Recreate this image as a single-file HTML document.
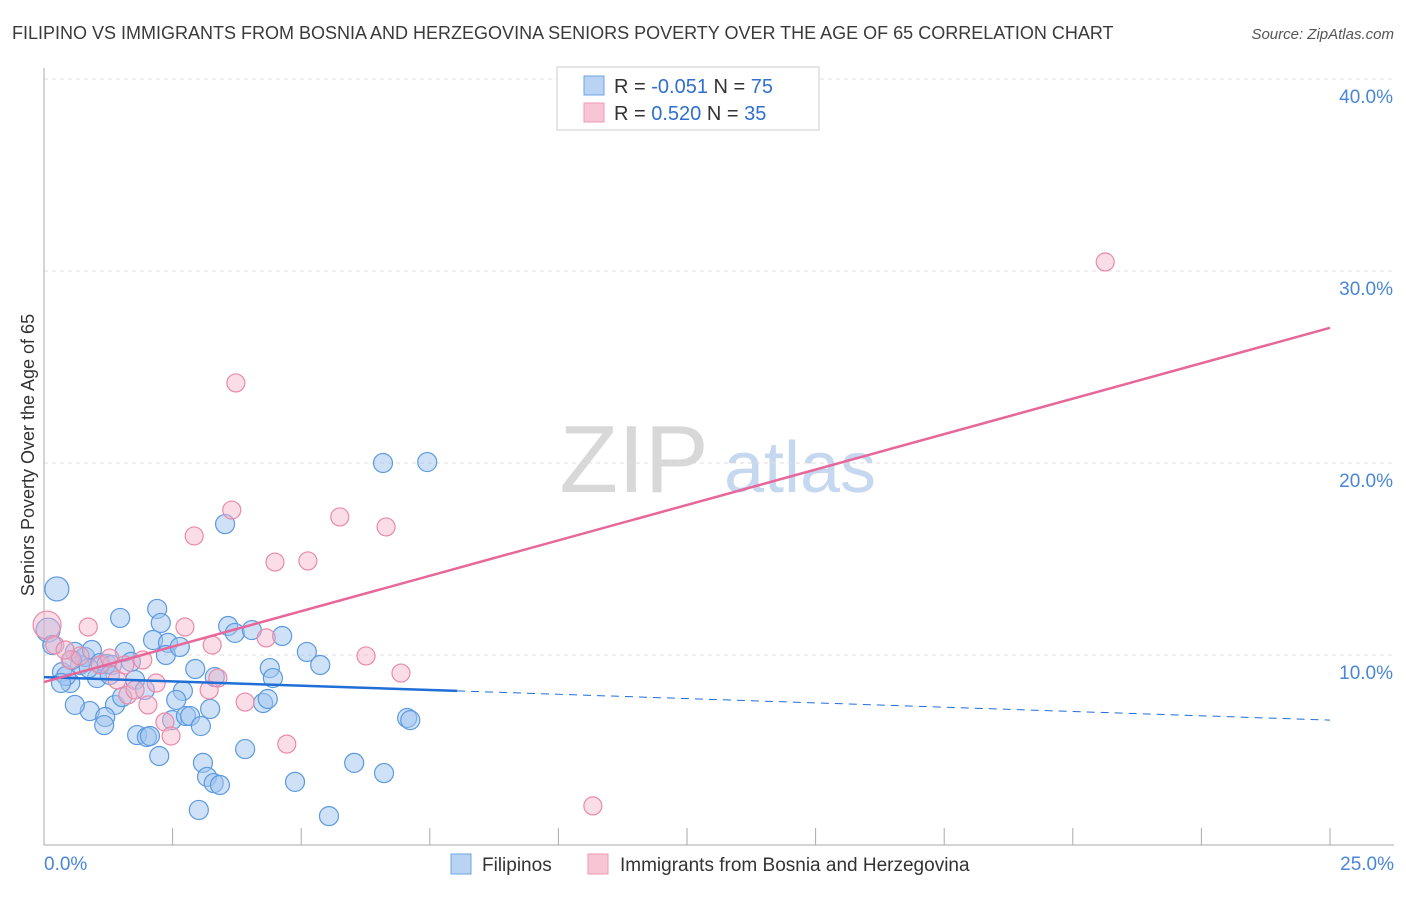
<!DOCTYPE html>
<html><head><meta charset="utf-8"><style>
body{margin:0;background:#fff;font-family:"Liberation Sans",sans-serif;}
svg text{font-family:"Liberation Sans",sans-serif;}
</style></head><body>
<svg width="1406" height="892">
<text x="12" y="39" font-size="18" fill="#3a3a3a">FILIPINO VS IMMIGRANTS FROM BOSNIA AND HERZEGOVINA SENIORS POVERTY OVER THE AGE OF 65 CORRELATION CHART</text>
<text x="1394" y="39" font-size="15" fill="#555" font-style="italic" text-anchor="end">Source: ZipAtlas.com</text>
<text x="634" y="492" font-size="96" fill="#d8d8d8" font-family="Liberation Serif" text-anchor="middle">ZIP</text>
<text x="800" y="492" font-size="72" fill="#c5d8f0" text-anchor="middle">atlas</text>
<g id="grid"></g>
<g id="axes"></g>
<g id="marks"></g>
<text transform="translate(34,455) rotate(-90)" font-size="18" fill="#333" text-anchor="middle">Seniors Poverty Over the Age of 65</text>
<g>
<rect x="557" y="67" width="262" height="63" fill="#fff" stroke="#ccc"/>
<rect x="584" y="76" width="20" height="19" fill="#b9d3f3" stroke="#6fa3e3"/>
<rect x="584" y="103" width="20" height="19" fill="#f8c5d5" stroke="#ee9ab5"/>
<text x="614" y="93" font-size="20" fill="#333">R = <tspan fill="#2f6fd0">-0.051</tspan>   N = <tspan fill="#2f6fd0">75</tspan></text>
<text x="614" y="120" font-size="20" fill="#333">R =  <tspan fill="#2f6fd0">0.520</tspan>   N = <tspan fill="#2f6fd0">35</tspan></text>
</g>
<g>
<rect x="451" y="854" width="20" height="20" fill="#b9d3f3" stroke="#6fa3e3"/>
<text x="482" y="871" font-size="19" fill="#333">Filipinos</text>
<rect x="588" y="854" width="20" height="20" fill="#f8c5d5" stroke="#ee9ab5"/>
<text x="620" y="871" font-size="19" fill="#333">Immigrants from Bosnia and Herzegovina</text>
</g>
</svg>
<script>
const blueX=[0.25,0.08,0.16,0.35,0.51,0.43,0.60,0.70,0.80,0.93,1.03,1.09,1.22,1.32,1.48,1.57,1.69,1.38,0.89,1.19,1.17,1.52,1.77,1.96,1.81,2.00,2.06,2.20,2.27,2.12,2.41,2.37,2.64,2.94,2.70,2.57,2.49,2.76,2.84,3.05,3.23,3.32,2.24,3.09,3.17,3.30,3.42,3.01,3.52,3.58,3.71,4.04,3.91,4.26,4.35,4.39,4.45,4.63,5.11,5.37,4.88,5.54,6.03,6.61,6.59,7.45,7.06,7.12,0.33,0.54,0.87,1.28,0.60];
const blueY=[13.44,11.30,10.52,9.11,8.54,8.91,10.16,9.48,9.90,10.26,8.80,9.58,9.53,9.48,11.93,10.16,9.64,7.40,7.08,6.77,6.35,7.81,8.70,8.18,5.83,5.73,5.78,12.40,11.67,10.78,10.63,10.00,10.42,9.27,8.13,7.66,6.61,6.82,6.82,6.30,7.19,8.85,4.74,4.38,3.65,3.33,3.23,1.93,16.82,11.51,11.15,11.30,5.10,7.50,7.71,9.32,8.80,10.99,10.16,9.48,3.39,1.61,4.38,3.85,20.00,20.05,6.72,6.61,8.54,9.74,9.32,8.96,7.40];
const pinkX=[0.06,0.21,0.51,0.86,1.09,1.28,1.42,1.63,1.77,1.92,2.02,2.18,2.35,2.47,2.74,2.92,3.21,3.27,3.38,3.65,3.73,3.91,4.32,4.49,4.72,5.13,5.75,6.26,6.65,6.94,10.67,20.63,0.70,1.57,0.41];
const pinkY=[11.56,10.52,9.74,11.46,9.48,9.84,8.70,7.92,8.18,9.74,7.40,8.54,6.51,5.78,11.46,16.20,8.18,10.52,8.80,17.55,24.17,7.55,10.89,14.84,5.36,14.90,17.19,9.95,16.67,9.06,2.14,30.47,9.95,9.48,10.26];
const yTicks=[10,20,30,40];
const xTickLabels=["0.0%","25.0%"];
const blueTrend=[8.85,-0.0896,8.03];
const pinkTrend=[8.59,0.738];
const NS="http://www.w3.org/2000/svg";
const sx=v=>44+v*51.44, sy=v=>847-v*19.2;
function mk(t,a,p){const e=document.createElementNS(NS,t);for(const k in a)e.setAttribute(k,a[k]);document.getElementById(p).appendChild(e);return e;}
yTicks.forEach(t=>{
 const l=mk('line',{x1:44,x2:1394,y1:sy(t),y2:sy(t),stroke:'#ddd','stroke-dasharray':'4,4'},'grid');
 
 
 const tx=mk('text',{x:1393,y:sy(t)+24,'font-size':19,fill:'#4a86d8','text-anchor':'end'},'axes');
 tx.textContent=t.toFixed(1)+'%';
 
 
});
const ax=mk('line',{x1:44,x2:44,y1:68,y2:845,stroke:'#aaa'},'axes');


const bx=mk('line',{x1:44,x2:1394,y1:845,y2:845,stroke:'#aaa'},'axes');


for(let k=0;k<=10;k++){const t=mk('line',{x1:sx(k*2.5),x2:sx(k*2.5),y1:828,y2:845,stroke:'#aaa'},'axes');
 
 }
[[0,'start',44],[25,'end',1394]].forEach((d,i)=>{const t=mk('text',{x:d[2],y:870,'font-size':19,fill:'#4a86d8','text-anchor':d[1]},'axes');t.textContent=xTickLabels[i];
 
 });
blueX.forEach((x,i)=>{const c=mk('circle',{cx:sx(x),cy:sy(blueY[i]),r:(i<2?12:9.5),fill:'rgba(160,195,240,0.5)',stroke:'#5b9ae0','stroke-width':1.2},'marks');
 
 });
pinkX.forEach((x,i)=>{const c=mk('circle',{cx:sx(x),cy:sy(pinkY[i]),r:(i<1?14:9),fill:'rgba(245,180,200,0.45)',stroke:'#ea8aaa','stroke-width':1.2},'marks');
 
 });
const bl=mk('line',{x1:sx(0),y1:sy(blueTrend[0]),x2:sx(blueTrend[2]),y2:sy(blueTrend[0]+blueTrend[1]*blueTrend[2]),stroke:'#1f6fd6','stroke-width':2.5},'marks');


const bd=mk('line',{x1:sx(blueTrend[2]),y1:sy(blueTrend[0]+blueTrend[1]*blueTrend[2]),x2:sx(25),y2:sy(blueTrend[0]+blueTrend[1]*25),stroke:'#1f6fd6','stroke-width':1,'stroke-dasharray':'8,6'},'marks');


const pl=mk('line',{x1:sx(0),y1:sy(pinkTrend[0]),x2:sx(25),y2:sy(pinkTrend[0]+pinkTrend[1]*25),stroke:'#e8679a','stroke-width':2.5},'marks');


</script>
</body></html>
